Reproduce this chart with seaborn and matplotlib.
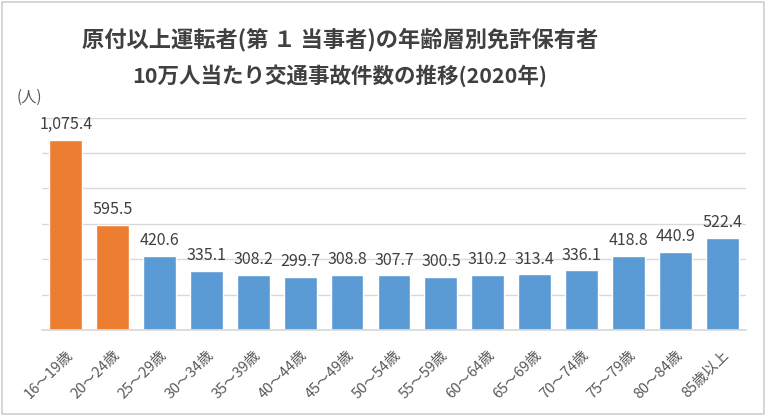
import pandas as pd
import matplotlib.pyplot as plt
import seaborn as sns
from matplotlib.patches import Rectangle

# データ（2020年、免許保有者10万人当たり交通事故件数）
ages = ["16～19歳", "20～24歳", "25～29歳", "30～34歳", "35～39歳", "40～44歳",
        "45～49歳", "50～54歳", "55～59歳", "60～64歳", "65～69歳", "70～74歳",
        "75～79歳", "80～84歳", "85歳以上"]
rates = [1075.4, 595.5, 420.6, 335.1, 308.2, 299.7, 308.8, 307.7,
         300.5, 310.2, 313.4, 336.1, 418.8, 440.9, 522.4]
group = ["young"] * 2 + ["other"] * 13

df = pd.DataFrame({"age": ages, "rate": rates, "group": group})

sns.set_theme(style="white")
plt.rcParams["font.family"] = ["Noto Sans CJK JP", "DejaVu Sans"]

fig = plt.figure(figsize=(7.68, 4.16), dpi=100)
ax = fig.add_axes([0.055, 0.207, 0.916, 0.510])

sns.barplot(data=df, x="age", y="rate", hue="group",
            palette={"young": "#ED7D31", "other": "#5B9BD5"},
            saturation=1, width=0.7, dodge=False, legend=False, ax=ax)

ax.set_ylim(0, 1200)
ax.set_yticks(range(0, 1201, 200))
ax.set_yticklabels([])
ax.yaxis.grid(True, color="#D9D9D9", linewidth=1)
ax.set_axisbelow(True)
for s in ["top", "right", "left"]:
    ax.spines[s].set_visible(False)
ax.spines["bottom"].set_color("#D9D9D9")
ax.tick_params(axis="both", length=0)
ax.set_xlabel("")
ax.set_ylabel("")

for c in ax.containers:
    ax.bar_label(c, labels=[f"{v:,.1f}" for v in c.datavalues],
                 padding=5, fontsize=11.5, color="#404040")

plt.setp(ax.get_xticklabels(), rotation=45, ha="right",
         rotation_mode="anchor", fontsize=10.5, color="#595959")
ax.tick_params(axis="x", pad=13)

fig.text(0.022, 0.765, "(人)", fontsize=11, color="#595959", va="center")
fig.text(0.443, 0.905, "原付以上運転者(第 １ 当事者)の年齢層別免許保有者",
         ha="center", va="center", fontsize=16, weight="bold", color="#404040")
fig.text(0.443, 0.818, "10万人当たり交通事故件数の推移(2020年)",
         ha="center", va="center", fontsize=15.5, weight="bold", color="#404040")

fig.patches.append(Rectangle((0.003, 0.006), 0.992, 0.988, transform=fig.transFigure,
                             fill=False, edgecolor="#D0D0D0", linewidth=1.2))

plt.savefig("out.png", dpi=100)
